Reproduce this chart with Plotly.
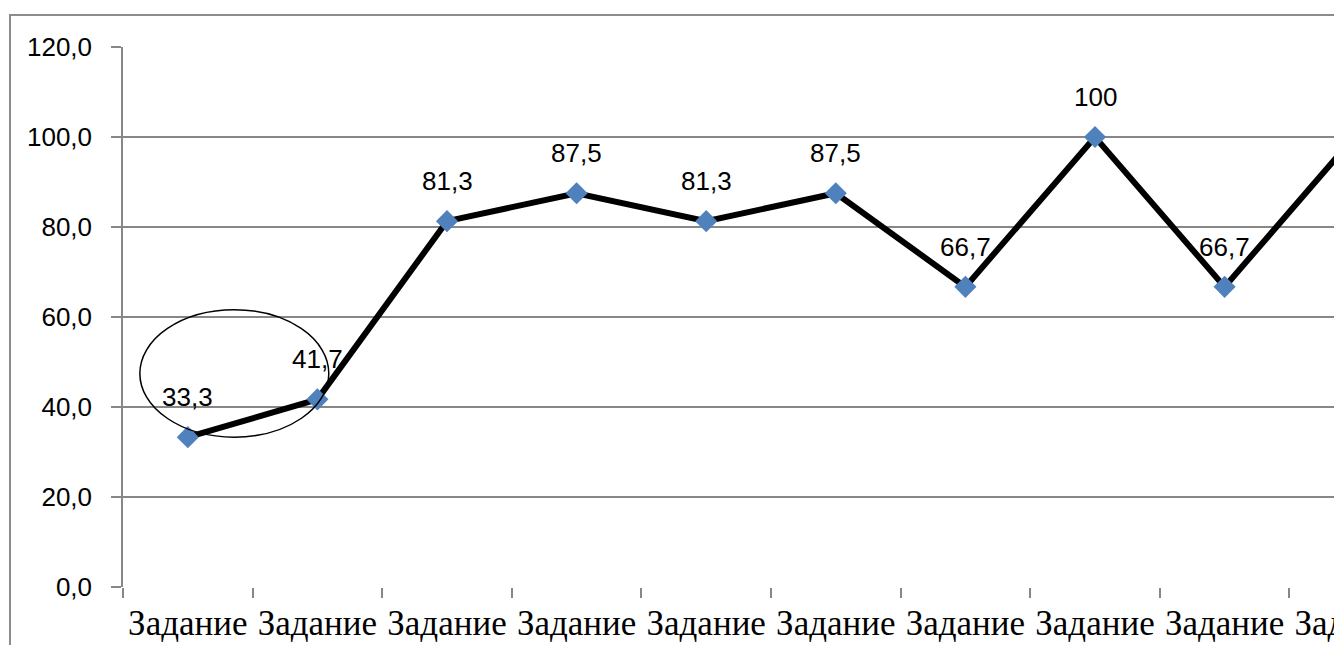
import plotly.graph_objects as go

categories = ["Задание 1", "Задание 2", "Задание 3", "Задание 4", "Задание 5",
              "Задание 6", "Задание 7", "Задание 8", "Задание 9", "Задание 10"]
values = [33.3, 41.7, 81.3, 87.5, 81.3, 87.5, 66.7, 100, 66.7, 100]
y_ticks = [0, 20, 40, 60, 80, 100, 120]

labels = [f"{v:g}".replace(".", ",") for v in values]
tick_text = [c.replace(" ", "<br>") for c in categories]

GRID = "#878787"
SANS = "Liberation Sans"
SERIF = "Liberation Serif"

fig = go.Figure()
fig.add_trace(go.Scatter(
    x=categories, y=values, mode="lines+markers",
    line=dict(color="black", width=6),
    marker=dict(symbol="diamond", size=17, color="#4F81BD", line=dict(width=0)),
    cliponaxis=True, showlegend=False,
))

# data labels above the points
for c, v, t in zip(categories, values, labels):
    fig.add_annotation(x=c, y=v, xref="x", yref="y", text=t, showarrow=False,
                       yshift=40, font=dict(family=SANS, size=26, color="black"))

# The original chart is a cropped picture: the figure is wider/taller than
# the window and the page clips it.
fig.update_layout(
    template="none",
    width=1460, height=700,
    margin=dict(l=123, r=41, t=47, b=113, autoexpand=False),
    paper_bgcolor="white", plot_bgcolor="white",
    separators=", ",
    xaxis=dict(
        type="category", categoryorder="array", categoryarray=categories,
        range=[-0.5, 9.5], tickson="boundaries",
        tickvals=categories, ticktext=tick_text,
        ticks="outside", ticklen=10, tickwidth=1.5, tickcolor=GRID,
        showgrid=False, showline=False, zeroline=False,
        tickfont=dict(family=SERIF, size=35, color="black"),
        ticklabelstandoff=12, automargin=False,
    ),
    yaxis=dict(
        range=[0, 120], tickvals=y_ticks, tickformat=".1f",
        ticks="outside", ticklen=10, tickwidth=1.5, tickcolor=GRID,
        showgrid=True, gridcolor=GRID, gridwidth=1.5,
        showline=True, linecolor=GRID, linewidth=1.5, zeroline=False,
        tickfont=dict(family=SANS, size=26, color="black"),
        ticklabelstandoff=14, automargin=False,
    ),
)

# outer chart border
fig.add_shape(type="rect", xref="paper", yref="paper",
              x0=-0.0872, x1=1.2, y0=-0.4, y1=1.0593,
              line=dict(color="#8C8C8C", width=2), layer="below")

# hand-drawn ellipse
fig.add_shape(type="circle", xref="x", yref="y",
              x0=-0.37, x1=1.088, y0=33.3, y1=61.6,
              line=dict(color="black", width=1.5), layer="above")

fig.write_html("out.html", config={"displayModeBar": False},
               post_script="document.body.style.margin='0';document.body.style.overflow='hidden';document.documentElement.style.overflow='hidden';")
